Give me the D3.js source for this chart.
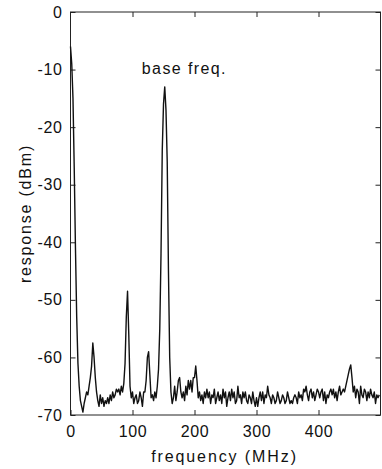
<!DOCTYPE html>
<html>
<head>
<meta charset="utf-8">
<script src="https://cdn.jsdelivr.net/npm/d3@7"></script>
<style>
  body { margin: 0; background: #fff; }
  text { font-family: "Liberation Sans", Arial, sans-serif; fill: #111; }
</style>
</head>
<body>
<div id="chart"></div>
<script>
// spectrum samples, 2 MHz apart
const freqMHz = [
  0, 2, 4, 6, 8, 10, 12, 14, 16, 18,
  20, 22, 24, 26, 28, 30, 32, 34, 36, 38,
  40, 42, 44, 46, 48, 50, 52, 54, 56, 58,
  60, 62, 64, 66, 68, 70, 72, 74, 76, 78,
  80, 82, 84, 86, 88, 90, 92, 94, 96, 98,
  100, 102, 104, 106, 108, 110, 112, 114, 116, 118,
  120, 122, 124, 126, 128, 130, 132, 134, 136, 138,
  140, 142, 144, 146, 148, 150, 152, 154, 156, 158,
  160, 162, 164, 166, 168, 170, 172, 174, 176, 178,
  180, 182, 184, 186, 188, 190, 192, 194, 196, 198,
  200, 202, 204, 206, 208, 210, 212, 214, 216, 218,
  220, 222, 224, 226, 228, 230, 232, 234, 236, 238,
  240, 242, 244, 246, 248, 250, 252, 254, 256, 258,
  260, 262, 264, 266, 268, 270, 272, 274, 276, 278,
  280, 282, 284, 286, 288, 290, 292, 294, 296, 298,
  300, 302, 304, 306, 308, 310, 312, 314, 316, 318,
  320, 322, 324, 326, 328, 330, 332, 334, 336, 338,
  340, 342, 344, 346, 348, 350, 352, 354, 356, 358,
  360, 362, 364, 366, 368, 370, 372, 374, 376, 378,
  380, 382, 384, 386, 388, 390, 392, 394, 396, 398,
  400, 402, 404, 406, 408, 410, 412, 414, 416, 418,
  420, 422, 424, 426, 428, 430, 432, 434, 436, 438,
  440, 442, 444, 446, 448, 450, 452, 454, 456, 458,
  460, 462, 464, 466, 468, 470, 472, 474, 476, 478,
  480, 482, 484, 486, 488, 490, 492, 494, 496, 498
];
const responseDbm = [
  -6, -9, -15, -27, -41, -53, -61, -65, -67.5, -68.5,
  -69.5, -68, -67, -66, -66.5, -65, -63.5, -61.5, -57.5, -60,
  -63.5, -66, -67.5, -68.5, -66.5, -68, -67, -68.5, -67.5, -68,
  -67, -68, -66.5, -67.5, -66, -67, -66.5, -65.5, -66, -65.5,
  -66.5, -65, -66, -64.5, -61, -53, -48.5, -56, -65, -67,
  -66, -68, -67, -66.5, -68, -67.5, -66, -67, -68.5, -66,
  -66, -64, -60, -59, -63, -67, -66.5, -67.5, -66, -67,
  -65, -62, -55, -42, -24, -16, -13, -17, -26, -45,
  -60, -66, -68, -67, -65, -67.5, -66, -64, -63.5, -66,
  -67, -66, -67.5, -65, -66.5, -64, -65.5, -64, -66, -63.5,
  -63.5, -61.5, -64, -67, -66, -67.5, -66.5, -68, -66, -67,
  -65.5, -67, -66, -68, -66.5, -67, -65.5, -68, -67, -66,
  -67.5, -66.5, -68, -65.5, -67, -66, -68.5, -67, -66, -67.5,
  -65.5, -67, -66, -68, -67.5, -65, -67, -66.5, -68, -66,
  -67, -66, -67.5, -68, -66.5, -67, -68, -66, -67.5, -68.5,
  -67, -68.5, -67, -66, -67.5, -66, -68, -66.5, -67, -65,
  -66.5, -67, -68, -66.5, -67, -68, -67.5, -66, -67, -68,
  -67.5, -66.5, -67, -68, -67.5, -66, -67, -68, -67.5, -68,
  -67, -66.5, -67, -68, -66, -67, -66.5, -67.5, -65.5, -66,
  -65, -66.5, -67.5, -66, -65.5, -67, -66, -67.5, -66.5, -65.5,
  -66, -67, -66, -65.5, -67.5, -66, -68, -66.5, -67, -66,
  -65.5, -66.5, -65.5, -67, -66, -67.5, -66, -65, -66.5, -66,
  -65.5, -66, -65, -64, -63, -62, -61.3, -63.5, -66, -65,
  -67, -65.5, -66, -68, -65, -66.5, -67, -65.5, -66, -67.5,
  -66, -67, -65.5, -66.5, -67, -66, -68, -66.5, -67, -66.5
];
const xTicks = [0, 100, 200, 300, 400];
const yTicks = [0, -10, -20, -30, -40, -50, -60, -70];
const annotation = { text: "base freq.", freq: 115, dbm: -10.8 };

const W = 382, H = 469;
const margin = { top: 12, right: 1.5, bottom: 54, left: 70.5 };
const width = W - margin.left - margin.right;
const height = H - margin.top - margin.bottom;

const svg = d3.select("#chart")
  .append("svg")
  .attr("width", W)
  .attr("height", H);
const g = svg.append("g")
  .attr("transform", "translate(" + margin.left + "," + margin.top + ")");

const x = d3.scaleLinear().domain([0, 500]).range([0, width]);
const y = d3.scaleLinear().domain([-70, 0]).range([height, 0]);

// axes, ticks pointing inward (matlab style)
const fontSize = 16;
const plainNum = d => String(d);   // hyphen minus, like the original
const axisStyle = sel => {
  sel.select(".domain").remove();
  sel.selectAll("line").attr("stroke", "#222");
  sel.selectAll("text")
    .style("font-size", fontSize + "px")
    .style("letter-spacing", "0.6px");
};
g.append("g")
  .attr("transform", "translate(0," + height + ")")
  .call(d3.axisBottom(x).tickValues(xTicks).tickSizeInner(-5).tickSizeOuter(0).tickPadding(11).tickFormat(plainNum))
  .call(axisStyle);
g.append("g")
  .call(d3.axisTop(x).tickValues([100, 200, 300, 400]).tickSizeInner(-5).tickSizeOuter(0).tickFormat(""))
  .call(axisStyle);
g.append("g")
  .call(d3.axisLeft(y).tickValues(yTicks).tickSizeInner(-5).tickSizeOuter(0).tickPadding(8).tickFormat(plainNum))
  .call(axisStyle);
g.append("g")
  .attr("transform", "translate(" + width + ",0)")
  .call(d3.axisRight(y).tickValues(yTicks).tickSizeInner(-5).tickSizeOuter(0).tickFormat(""))
  .call(axisStyle);

g.append("rect")
  .attr("width", width)
  .attr("height", height)
  .attr("fill", "none")
  .attr("stroke", "#222")
  .attr("stroke-width", 1);

const line = d3.line()
  .x((d, i) => x(freqMHz[i]))
  .y(d => y(d));
g.append("path")
  .datum(responseDbm)
  .attr("d", line)
  .attr("fill", "none")
  .attr("stroke", "#111")
  .attr("stroke-width", 1.4)
  .attr("stroke-linejoin", "round");

g.append("text")
  .attr("x", x(annotation.freq))
  .attr("y", y(annotation.dbm))
  .attr("text-anchor", "start")
  .style("font-size", fontSize + "px")
  .style("letter-spacing", "1.4px")
  .text(annotation.text);

// axis titles
svg.append("text")
  .attr("x", margin.left + width / 2 - 1)
  .attr("y", 462)
  .attr("text-anchor", "middle")
  .style("font-size", fontSize + "px")
  .style("letter-spacing", "1.9px")
  .text("frequency (MHz)");
svg.append("text")
  .attr("transform", "translate(31," + (margin.top + height / 2) + ") rotate(-90)")
  .attr("text-anchor", "middle")
  .style("font-size", fontSize + "px")
  .style("letter-spacing", "1.8px")
  .text("response (dBm)");
</script>
</body>
</html>
